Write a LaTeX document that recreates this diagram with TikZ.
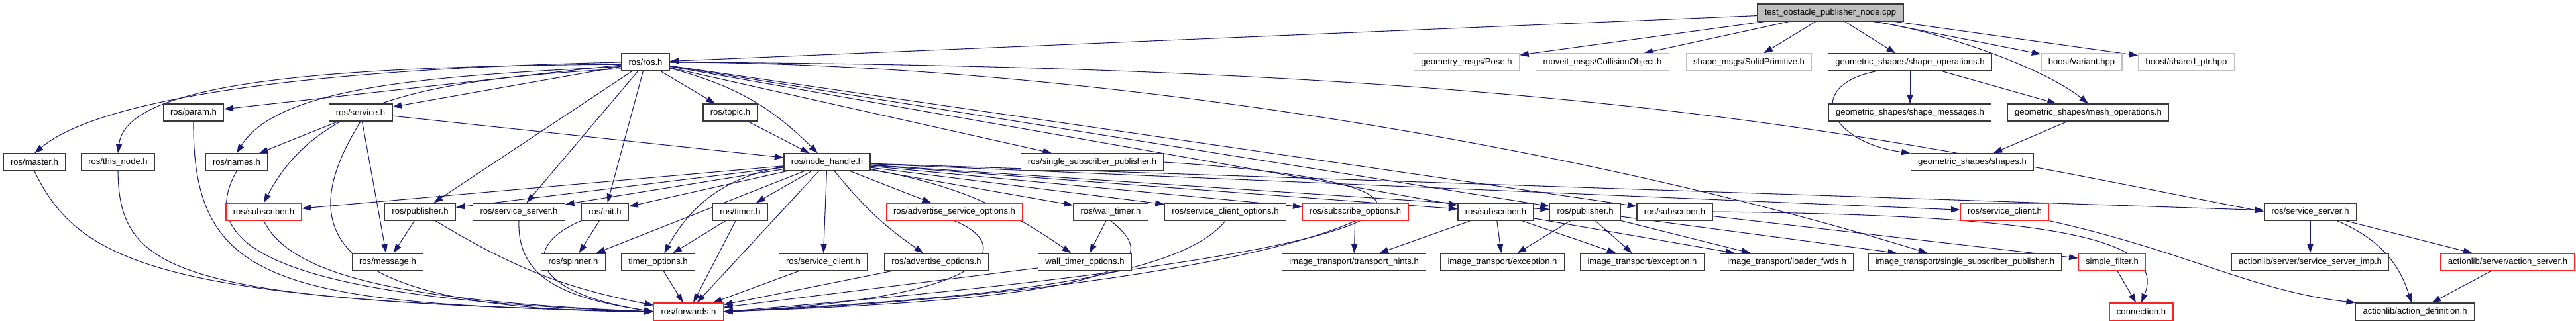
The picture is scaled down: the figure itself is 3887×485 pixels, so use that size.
\documentclass[tikz,border=0pt]{standalone}
\usepackage{fontspec}
\setmainfont{Liberation Sans}
\usetikzlibrary{arrows.meta, backgrounds}
\definecolor{EdgeNavy}{HTML}{191970}
\definecolor{BoxLine}{HTML}{383838}
\definecolor{ExtLine}{HTML}{BFBFBF}
\definecolor{SrcFill}{HTML}{BFBFBF}
\definecolor{Missing}{HTML}{FF2020}

\begin{document}
\begin{tikzpicture}[
    x=0.025cm, y=-0.025cm,
    hfile/.style={draw=BoxLine, fill=white, line width=0.9pt, minimum height=0.65cm, inner xsep=0.27cm, inner ysep=0pt, font=\fontsize{9.3}{11}\selectfont},
    hmissing/.style={hfile, draw=Missing},
    hext/.style={hfile, draw=ExtLine},
    hsrc/.style={hfile, fill=SrcFill},
    incl/.style={draw=EdgeNavy, line width=0.75pt, -{Triangle[length=0.34cm, width=0.23cm]}}
]
\useasboundingbox (0,0) rectangle (3887,485);

% source file
\node[hsrc] (src) at (2762,19) {test\_obstacle\_publisher\_node.cpp};

% first level
\node[hfile] (ros) at (974,94) {ros/ros.h};
\node[hext] (pose) at (2213,94) {geometry\_msgs/Pose.h};
\node[hext] (collobj) at (2418,94) {moveit\_msgs/CollisionObject.h};
\node[hext] (solidprim) at (2639,94) {shape\_msgs/SolidPrimitive.h};
\node[hfile] (shapeops) at (2882,94) {geometric\_shapes/shape\_operations.h};
\node[hext] (variant) at (3141,94) {boost/variant.hpp};
\node[hext] (sharedptr) at (3299,94) {boost/shared\_ptr.hpp};

% second level
\node[hfile] (param) at (292,170) {ros/param.h};
\node[hfile] (service) at (544,170) {ros/service.h};
\node[hfile] (topic) at (1102,170) {ros/topic.h};
\node[hfile] (shapemsgs) at (2882,170) {geometric\_shapes/shape\_messages.h};
\node[hfile] (meshops) at (3151,170) {geometric\_shapes/mesh\_operations.h};

% third level
\node[hfile] (master) at (52,245) {ros/master.h};
\node[hfile] (thisnode) at (178,245) {ros/this\_node.h};
\node[hfile] (names) at (357,245) {ros/names.h};
\node[hfile] (nodehandle) at (1248,245) {ros/node\_handle.h};
\node[hfile] (sspub) at (1648,245) {ros/single\_subscriber\_publisher.h};
\node[hfile] (shapes) at (2976,245) {geometric\_shapes/shapes.h};

% fourth level
\node[hmissing] (subA) at (398,320) {ros/subscriber.h};
\node[hfile] (pubA) at (634,320) {ros/publisher.h};
\node[hfile] (srvserverA) at (783,320) {ros/service\_server.h};
\node[hfile] (init) at (913,320) {ros/init.h};
\node[hfile] (timer) at (1117,320) {ros/timer.h};
\node[hmissing] (advsrvopts) at (1440,320) {ros/advertise\_service\_options.h};
\node[hfile] (walltimer) at (1676,320) {ros/wall\_timer.h};
\node[hfile] (srvclientopts) at (1849,320) {ros/service\_client\_options.h};
\node[hmissing] (subopts) at (2045,320) {ros/subscribe\_options.h};
\node[hfile] (subB) at (2257,320) {ros/subscriber.h};
\node[hfile] (pubB) at (2392,320) {ros/publisher.h};
\node[hfile] (subC) at (2527,320) {ros/subscriber.h};
\node[hmissing] (srvclientB) at (3025,320) {ros/service\_client.h};
\node[hfile] (srvserverB) at (3486,320) {ros/service\_server.h};

% fifth level
\node[hfile] (message) at (585,396) {ros/message.h};
\node[hfile] (spinner) at (865,396) {ros/spinner.h};
\node[hfile] (timeropts) at (993,396) {timer\_options.h};
\node[hfile] (srvclientA) at (1242,396) {ros/service\_client.h};
\node[hfile] (advopts) at (1413,396) {ros/advertise\_options.h};
\node[hfile] (walltimeropts) at (1637,396) {wall\_timer\_options.h};
\node[hfile] (hints) at (2043,396) {image\_transport/transport\_hints.h};
\node[hfile] (exceptA) at (2267,396) {image\_transport/exception.h};
\node[hfile] (exceptB) at (2478,396) {image\_transport/exception.h};
\node[hfile] (loader) at (2696,396) {image\_transport/loader\_fwds.h};
\node[hfile] (itsspub) at (2965,396) {image\_transport/single\_subscriber\_publisher.h};
\node[hmissing] (simplefilter) at (3187,396) {simple\_filter.h};
\node[hfile] (srvimp) at (3486,396) {actionlib/server/service\_server\_imp.h};
\node[hmissing] (actserver) at (3784,396) {actionlib/server/action\_server.h};

% last level
\node[hmissing] (forwards) at (1039,471) {ros/forwards.h};
\node[hmissing] (connection) at (3231,471) {connection.h};
\node[hfile] (actdef) at (3644,471) {actionlib/action\_definition.h};

\begin{scope}[on background layer]
\fill[white] (0,0) rectangle (3887,485);

% from the source file
\draw[incl] (src) -- (ros);
\draw[incl] (src) -- (pose);
\draw[incl] (src) -- (collobj);
\draw[incl] (src) -- (solidprim);
\draw[incl] (src) -- (shapeops);
\draw[incl] (src) -- (variant);
\draw[incl] (src) -- (sharedptr);
\draw[incl] (src.-12) .. controls (2920,45) and (3080,100) .. (meshops.north);

% geometric shapes
\draw[incl] (shapeops) -- (shapemsgs);
\draw[incl] (shapeops) -- (meshops);
\draw[incl] (shapeops.195) .. controls (2720,130) and (2760,215) .. (shapes.north west);
\draw[incl] (meshops) -- (shapes);

% ros/ros.h
\draw[incl] (ros.west) .. controls (450,105) and (150,150) .. (master.north);
\draw[incl] (ros.185) .. controls (450,100) and (190,130) .. (thisnode.north);
\draw[incl] (ros) -- (param);
\draw[incl] (ros) -- (service);
\draw[incl] (ros.190) .. controls (650,115) and (420,130) .. (names.north);
\draw[incl] (ros.195) .. controls (650,120) and (480,150) .. (subA.north);
\draw[incl] (ros) -- (pubA);
\draw[incl] (ros) -- (srvserverA);
\draw[incl] (ros) -- (init);
\draw[incl] (ros) -- (topic);
\draw[incl] (ros) to[bend left=15] (nodehandle);
\draw[incl] (ros) -- (sspub);
\draw[incl] (ros) -- (subB);
\draw[incl] (ros) -- (pubB);
\draw[incl] (ros) -- (subC);
\draw[incl] (ros.east) .. controls (1600,95) and (2350,210) .. ([xshift=2.25cm]itsspub.north west);
\draw[incl] (ros.east) .. controls (2400,100) and (2850,210) .. (srvserverB.west);

% left column into ros/forwards.h
\draw[incl] (master.south) .. controls (120,400) and (250,455) .. (forwards.west);
\draw[incl] (thisnode.south) .. controls (180,410) and (260,455) .. (forwards.west);
\draw[incl] (param.south) .. controls (290,430) and (420,460) .. (forwards.west);
\draw[incl] (names.south) .. controls (300,360) and (380,450) .. (forwards.west);
\draw[incl] (subA.south) .. controls (440,420) and (620,455) .. (forwards.west);
\draw[incl] (service.south) .. controls (460,320) and (440,470) .. (forwards.west);
\draw[incl] (pubA) to[bend right=10] (forwards);
\draw[incl] (srvserverA.south) .. controls (780,420) and (850,450) .. (forwards.west);
\draw[incl] (init.south west) .. controls (790,370) and (790,440) .. (forwards.west);

% ros/service.h and ros/publisher.h
\draw[incl] (service) -- (names);
\draw[incl] (service) -- (message);
\draw[incl] (service) -- (nodehandle);
\draw[incl] (pubA) -- (message);
\draw[incl] (topic) -- (nodehandle);

% ros/node_handle.h
\draw[incl] (nodehandle) -- (subA);
\draw[incl] (nodehandle) -- (pubA);
\draw[incl] (nodehandle) -- (srvserverA);
\draw[incl] (nodehandle) -- (init);
\draw[incl] (nodehandle) -- (spinner);
\draw[incl] (nodehandle) to[bend right=25] (timeropts);
\draw[incl] (nodehandle) -- (timer);
\draw[incl] (nodehandle) -- (forwards);
\draw[incl] (nodehandle) -- (srvclientA);
\draw[incl] (nodehandle) to[bend right=8] (advopts);
\draw[incl] (nodehandle) -- (advsrvopts);
\draw[incl] (nodehandle) to[bend left=12] (walltimeropts);
\draw[incl] (nodehandle) -- (walltimer);
\draw[incl] (nodehandle) -- (srvclientopts);
\draw[incl] (nodehandle) -- (subopts);
\draw[incl] (nodehandle) -- (subB);
\draw[incl] (nodehandle) -- (pubB);
\draw[incl] (nodehandle) -- (srvclientB);
\draw[incl] (nodehandle) -- (srvserverB);

% timers, spinner, options
\draw[incl] (init) -- (spinner);
\draw[incl] (timer) -- (timeropts);
\draw[incl] (timer) -- (forwards);
\draw[incl] (timeropts) -- (forwards);
\draw[incl] (srvclientA) -- (forwards);
\draw[incl] (advopts) -- (forwards);
\draw[incl] (walltimeropts) -- (forwards);
\draw[incl] (walltimer) -- (walltimeropts);
\draw[incl] (advsrvopts.south) .. controls (1530,370) and (1510,450) .. (forwards.east);
\draw[incl] (walltimer.south) .. controls (1760,400) and (1700,450) .. (forwards.east);
\draw[incl] (srvclientopts.south) .. controls (1780,420) and (1500,450) .. (forwards.east);
\draw[incl] (subopts.south) .. controls (1900,400) and (1500,455) .. (forwards.east);
\draw[incl] (sspub.east) .. controls (2300,280) and (2200,380) .. (forwards.east);
\draw[incl] (subopts) -- (hints);

% image transport
\draw[incl] (subB) -- (hints);
\draw[incl] (subB) -- (exceptA);
\draw[incl] (subB) -- (exceptB);
\draw[incl] (subB) -- (loader);
\draw[incl] (pubB) -- (exceptA);
\draw[incl] (pubB) -- (exceptB);
\draw[incl] (pubB) -- (loader);
\draw[incl] (pubB) -- (itsspub);

% filters and actionlib
\draw[incl] (subC) -- (simplefilter);
\draw[incl] (subC.east) .. controls (3100,325) and (3270,360) .. (connection.north);
\draw[incl] (simplefilter) -- (connection);
\draw[incl] (srvclientB.south east) .. controls (3300,380) and (3400,440) .. (actdef.north west);
\draw[incl] (srvserverB) -- (srvimp);
\draw[incl] (srvserverB) -- (actserver);
\draw[incl] (srvserverB) to[bend left=25] (actdef);
\draw[incl] (actserver) -- (actdef);
\end{scope}

\end{tikzpicture}
\end{document}
